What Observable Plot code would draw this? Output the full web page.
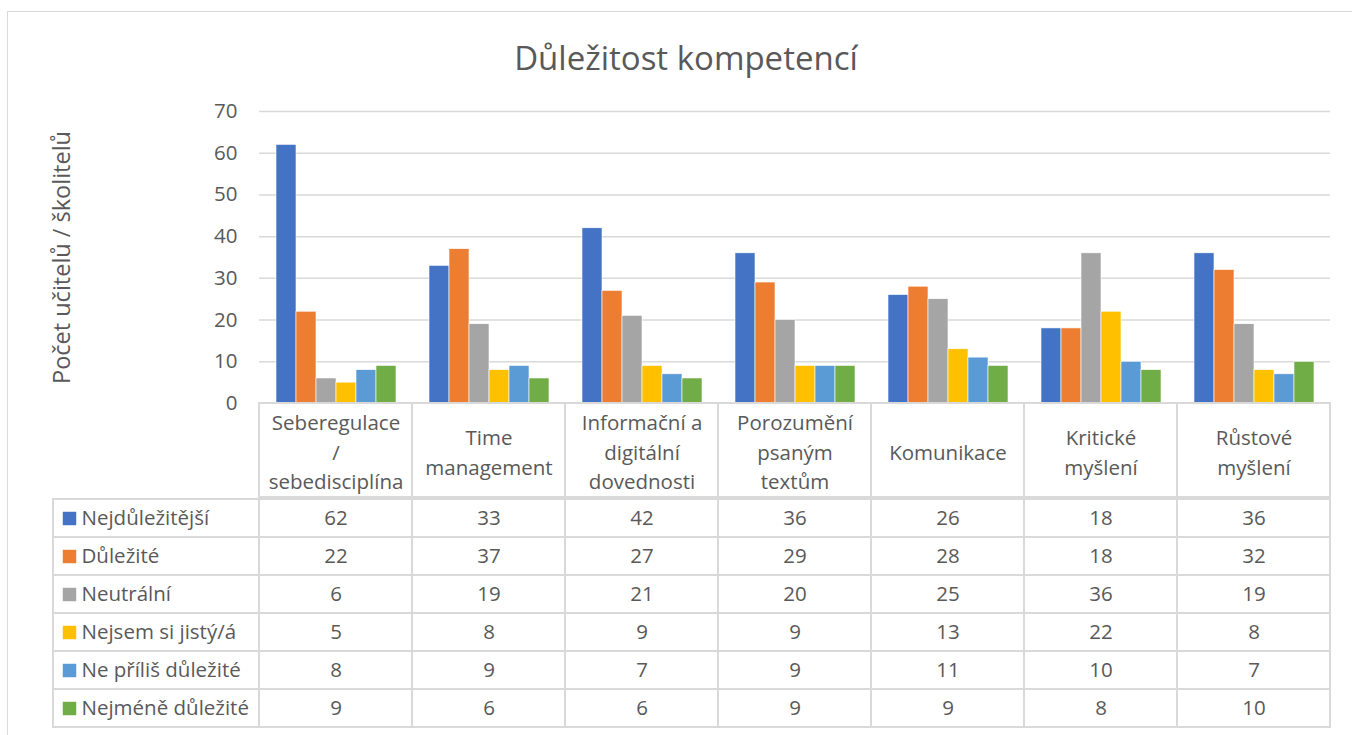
<!DOCTYPE html>
<html>
<head>
<meta charset="utf-8">
<script src="https://cdn.jsdelivr.net/npm/d3@7"></script>
<script src="https://cdn.jsdelivr.net/npm/@observablehq/plot@0.6"></script>
<style>
  html, body { margin: 0; padding: 0; background: #fff; }
  #wrap { position: relative; width: 1352px; height: 735px; overflow: hidden; font-family: "Open Sans", sans-serif; }
  #frame { position: absolute; left: 7px; top: 11px; width: 1360px; height: 740px; border: 1.5px solid #d9d9d9; box-sizing: border-box; }
  #title { position: absolute; left: 0; width: 1372px; top: 35px; line-height: 46px; text-align: center; font-size: 33px; color: #595959; }
  .layer { position: absolute; left: 0; top: 0; }
</style>
</head>
<body>
<div id="wrap">
  <div id="frame"></div>
  <div id="title">Důležitost kompetencí</div>
</div>
<script>
const categories = ["Seberegulace / sebedisciplína", "Time management", "Informační a digitální dovednosti", "Porozumění psaným textům", "Komunikace", "Kritické myšlení", "Růstové myšlení"];
const headerLabels = ["Seberegulace\n/\nsebedisciplína", "Time\nmanagement", "Informační a\ndigitální\ndovednosti", "Porozumění\npsaným\ntextům", "Komunikace", "Kritické\nmyšlení", "Růstové\nmyšlení"];
const series = ["Nejdůležitější", "Důležité", "Neutrální", "Nejsem si jistý/á", "Ne příliš důležité", "Nejméně důležité"];
const colors = ["#4472C4", "#ED7D31", "#A5A5A5", "#FFC000", "#5B9BD5", "#70AD47"];
const nejdulezitejsi = [62, 33, 42, 36, 26, 18, 36];
const dulezite = [22, 37, 27, 29, 28, 18, 32];
const neutralni = [6, 19, 21, 20, 25, 36, 19];
const nejsemSiJisty = [5, 8, 9, 9, 13, 22, 8];
const nePrilisDulezite = [8, 9, 7, 9, 11, 10, 7];
const nejmeneDulezite = [9, 6, 6, 9, 9, 8, 10];
const yTicks = [0, 10, 20, 30, 40, 50, 60, 70];
const yLabel = "Počet učitelů / školitelů";

const valuesBySeries = [nejdulezitejsi, dulezite, neutralni, nejsemSiJisty, nePrilisDulezite, nejmeneDulezite];
const data = [];
series.forEach((s, si) => categories.forEach((c, ci) => data.push({series: s, category: c, value: valuesBySeries[si][ci]})));

const W = 1352, H = 735;
const textColor = "#595959";
const gridColor = "#d9d9d9";
const font = "Open Sans, sans-serif";
const fs = 20.5;
const baseStyle = {background: "transparent", fontFamily: font, overflow: "visible", fontSize: fs + "px"};
const wrap = document.getElementById("wrap");
function add(svg) { svg.classList.add("layer"); wrap.appendChild(svg); }

// Bar chart
add(Plot.plot({
  width: W, height: H,
  marginTop: 111, marginBottom: H - 403, marginLeft: 259, marginRight: W - 1330,
  style: baseStyle,
  fx: {domain: categories, padding: 0, axis: null},
  x: {domain: series, paddingInner: 0, paddingOuter: 0.75, axis: null},
  y: {domain: [0, 70], axis: null},
  color: {domain: series, range: colors},
  marks: [
    Plot.ruleY(yTicks.filter(d => d > 0), {y: d => d, stroke: gridColor, strokeWidth: 1.5}),
    Plot.axisY(yTicks, {tickSize: 0, tickPadding: 22, fontSize: fs, fill: textColor, label: null, facetAnchor: "left"}),
    Plot.barY(data, {fx: "category", x: "series", y: "value", fill: "series", stroke: "white", strokeWidth: 0.6, inset: 0}),
    Plot.text([yLabel], {frameAnchor: "left", textAnchor: "middle", dx: -197, rotate: -90, fontSize: 23.5, fill: textColor, facetAnchor: "left"})
  ]
}));

// Table header row
add(Plot.plot({
  width: W, height: H,
  marginTop: 403, marginBottom: H - 497, marginLeft: 259, marginRight: W - 1330,
  style: baseStyle,
  x: {domain: categories, padding: 0, axis: null},
  marks: [
    Plot.cell(categories, {x: d => d, fill: "none", stroke: gridColor, strokeWidth: 2}),
    Plot.text(categories, {x: d => d, frameAnchor: "middle", text: (d, i) => headerLabels[i], lineAnchor: "middle", lineHeight: 1.44, fontSize: fs, fill: textColor})
  ]
}));

// Table body
add(Plot.plot({
  width: W, height: H,
  marginTop: 497, marginBottom: H - 728, marginLeft: 259, marginRight: W - 1330,
  style: baseStyle,
  x: {domain: categories, padding: 0, axis: null},
  y: {domain: series, padding: 0, axis: null},
  marks: [
    Plot.cell(data, {x: "category", y: "series", fill: "none", stroke: gridColor, strokeWidth: 2}),
    Plot.text(data, {x: "category", y: "series", text: d => String(d.value), fontSize: fs, fill: textColor})
  ]
}));

// Legend column
add(Plot.plot({
  width: W, height: H,
  marginTop: 497, marginBottom: H - 728, marginLeft: 53, marginRight: W - 259,
  style: baseStyle,
  y: {domain: series, padding: 0, axis: null},
  color: {domain: series, range: colors},
  marks: [
    Plot.cell(series, {y: d => d, fill: "none", stroke: gridColor, strokeWidth: 2}),
    Plot.dot(series, {y: d => d, frameAnchor: "left", dx: 16, symbol: "square", r: 7.6, fill: d => d, stroke: "none"}),
    Plot.text(series, {y: d => d, frameAnchor: "left", dx: 28, textAnchor: "start", fontSize: fs, fill: textColor})
  ]
}));
</script>
</body>
</html>
